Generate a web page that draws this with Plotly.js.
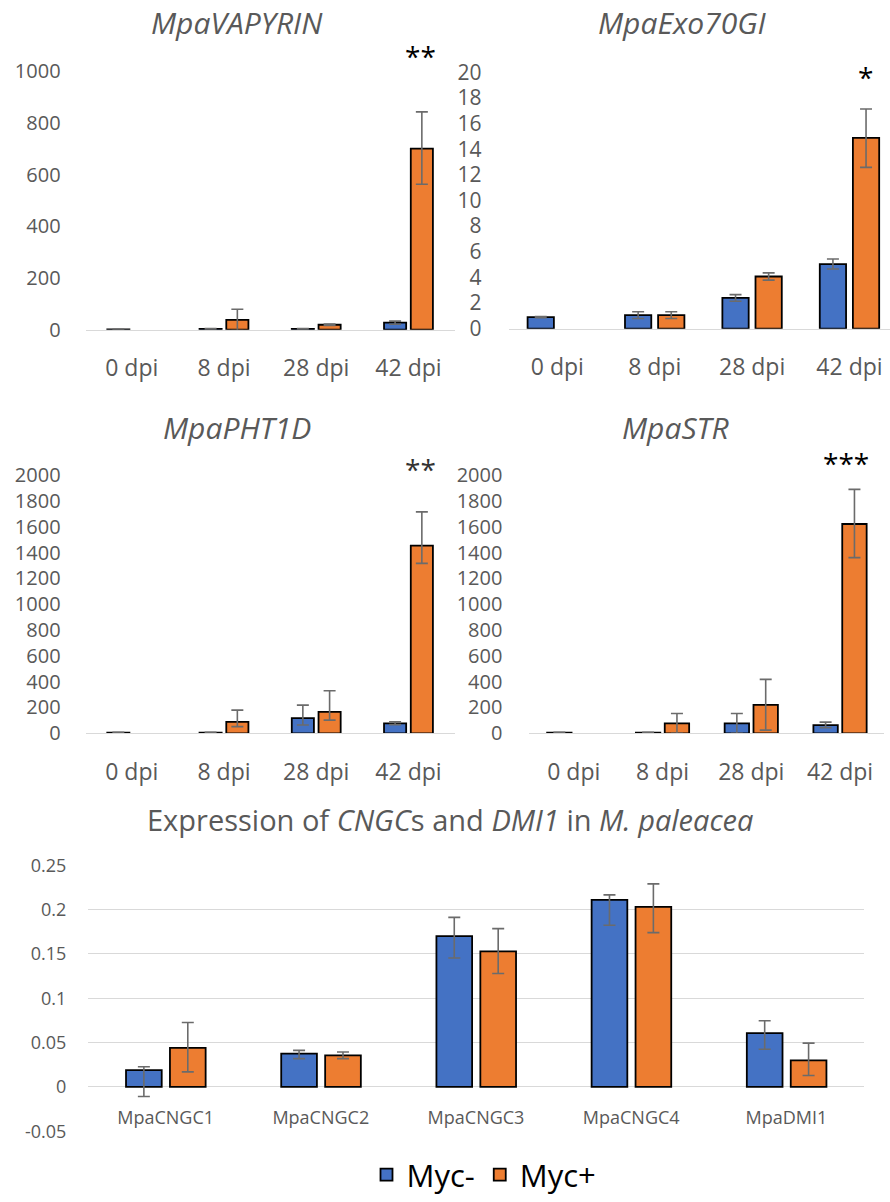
<!DOCTYPE html>
<html>
<head>
<meta charset="utf-8">
<script src="https://cdn.plot.ly/plotly-3.0.1.min.js"></script>
<style>html,body{margin:0;padding:0;background:#fff;}#chart{width:890px;height:1202px;}</style>
</head>
<body>
<div id="chart"></div>
<script>
// ---------- DATA ----------
const dpiCategories = ['0 dpi', '8 dpi', '28 dpi', '42 dpi'];
const seriesNames = ['Myc-', 'Myc+'];

const vapyrinMycMinus = [1, 3, 3, 27];
const vapyrinMycMinusErrUp = [0.5, 1, 1, 6];
const vapyrinMycMinusErrDown = [0.5, 1, 1, 6];
const vapyrinMycPlus = [null, 38, 19, 701];
const vapyrinMycPlusErrUp = [null, 41, 3, 142];
const vapyrinMycPlusErrDown = [null, 41, 3, 138];

const exo70MycMinus = [0.9, 1.06, 2.4, 5.04];
const exo70MycMinusErrUp = [0.05, 0.26, 0.26, 0.39];
const exo70MycMinusErrDown = [0.05, 0.26, 0.26, 0.39];
const exo70MycPlus = [null, 1.06, 4.07, 14.88];
const exo70MycPlusErrUp = [null, 0.26, 0.28, 2.26];
const exo70MycPlusErrDown = [null, 0.26, 0.28, 2.3];

const pht1dMycMinus = [5, 5, 118, 77];
const pht1dMycMinusErrUp = [2, 2, 100, 13];
const pht1dMycMinusErrDown = [2, 2, 54, 10];
const pht1dMycPlus = [null, 88, 166, 1455];
const pht1dMycPlusErrUp = [null, 92, 164, 261];
const pht1dMycPlusErrDown = [null, 36, 64, 138];

const strMycMinus = [5, 5, 77, 64];
const strMycMinusErrUp = [2, 2, 77, 23];
const strMycMinusErrDown = [2, 2, 77, 20];
const strMycPlus = [null, 77, 220, 1622];
const strMycPlusErrUp = [null, 77, 198, 268];
const strMycPlusErrDown = [null, 77, 195, 261];

const cngcGenes = ['MpaCNGC1', 'MpaCNGC2', 'MpaCNGC3', 'MpaCNGC4', 'MpaDMI1'];
const cngcMycMinus = [0.019, 0.0376, 0.170, 0.211, 0.0606];
const cngcMycMinusErrUp = [0.0038, 0.0037, 0.0212, 0.0056, 0.014];
const cngcMycMinusErrDown = [0.0298, 0.0056, 0.0246, 0.0287, 0.018];
const cngcMycPlus = [0.044, 0.0357, 0.153, 0.203, 0.030];
const cngcMycPlusErrUp = [0.0286, 0.0038, 0.0256, 0.026, 0.0194];
const cngcMycPlusErrDown = [0.027, 0.0038, 0.025, 0.029, 0.0171];

const cngcTickVals = [-0.05, 0, 0.05, 0.1, 0.15, 0.2, 0.25];
const cngcTickText = ['-0.05', '0', '0.05', '0.1', '0.15', '0.2', '0.25'];

const panelTitles = ['MpaVAPYRIN', 'MpaExo70GI', 'MpaPHT1D', 'MpaSTR'];
const significance = ['**', '*', '**', '***'];
const bottomTitle = 'Expression of <i>CNGC</i>s and <i>DMI1</i> in <i>M. paleacea</i>';

// ---------- STYLE ----------
const BLUE = '#4472C4', ORANGE = '#ED7D31', GRAY = '#595959';
const FONT = 'Open Sans, Liberation Sans, sans-serif';
const W = 890, H = 1202;
const px = v => v / W;
const py = v => 1 - v / H;

function barTrace(name, x, y, up, down, color, xa, ya, width, offset, showlegend, capw) {
  return {
    type: 'bar', name: name, x: x, y: y, xaxis: xa, yaxis: ya,
    width: width, offset: offset, showlegend: showlegend, legendgroup: name,
    marker: {color: color, line: {color: '#000000', width: 1.8}},
    error_y: {type: 'data', symmetric: false, array: up, arrayminus: down,
              color: '#6b6b6b', thickness: 1.6, width: capw},
    hoverinfo: 'x+y'
  };
}

const traces = [
  barTrace(seriesNames[0], dpiCategories, vapyrinMycMinus, vapyrinMycMinusErrUp, vapyrinMycMinusErrDown, BLUE, 'x', 'y', 0.24, -0.265, false, 6),
  barTrace(seriesNames[1], dpiCategories, vapyrinMycPlus, vapyrinMycPlusErrUp, vapyrinMycPlusErrDown, ORANGE, 'x', 'y', 0.24, 0.025, false, 6),
  barTrace(seriesNames[0], dpiCategories, exo70MycMinus, exo70MycMinusErrUp, exo70MycMinusErrDown, BLUE, 'x2', 'y2', 0.27, -0.305, false, 6),
  barTrace(seriesNames[1], dpiCategories, exo70MycPlus, exo70MycPlusErrUp, exo70MycPlusErrDown, ORANGE, 'x2', 'y2', 0.27, 0.035, false, 6),
  barTrace(seriesNames[0], dpiCategories, pht1dMycMinus, pht1dMycMinusErrUp, pht1dMycMinusErrDown, BLUE, 'x3', 'y3', 0.24, -0.265, false, 6),
  barTrace(seriesNames[1], dpiCategories, pht1dMycPlus, pht1dMycPlusErrUp, pht1dMycPlusErrDown, ORANGE, 'x3', 'y3', 0.24, 0.025, false, 6),
  barTrace(seriesNames[0], dpiCategories, strMycMinus, strMycMinusErrUp, strMycMinusErrDown, BLUE, 'x4', 'y4', 0.275, -0.30, false, 6),
  barTrace(seriesNames[1], dpiCategories, strMycPlus, strMycPlusErrUp, strMycPlusErrDown, ORANGE, 'x4', 'y4', 0.275, 0.025, false, 6),
  barTrace(seriesNames[0], cngcGenes, cngcMycMinus, cngcMycMinusErrUp, cngcMycMinusErrDown, BLUE, 'x5', 'y5', 0.23, -0.255, true, 6),
  barTrace(seriesNames[1], cngcGenes, cngcMycPlus, cngcMycPlusErrUp, cngcMycPlusErrDown, ORANGE, 'x5', 'y5', 0.23, 0.028, true, 6)
];

function topX(domain, anchor, range) {
  return {domain: domain, anchor: anchor, type: 'category', range: range, showline: true, linecolor: '#d9d9d9', linewidth: 1,
    showgrid: false, zeroline: false, ticks: 'outside', ticklen: 18, tickcolor: 'rgba(0,0,0,0)',
    tickfont: {family: FONT, size: 23, color: GRAY}, fixedrange: true};
}
function topY(domain, anchor, range, dtick, size, tlen) {
  return {domain: domain, anchor: anchor, range: range, dtick: dtick, tick0: 0, showline: false, showgrid: false,
    zeroline: false, ticks: 'outside', ticklen: tlen, tickcolor: 'rgba(0,0,0,0)',
    tickfont: {family: FONT, size: size, color: GRAY}, fixedrange: true};
}
function note(text, x, y, size, color) {
  return {text: text, x: px(x), y: py(y), xref: 'paper', yref: 'paper', xanchor: 'center', yanchor: 'middle',
    showarrow: false, font: {family: FONT, size: size, color: color}};
}

const layout = {
  width: W, height: H, margin: {l: 0, r: 0, t: 0, b: 0},
  paper_bgcolor: '#ffffff', plot_bgcolor: 'rgba(0,0,0,0)',
  barmode: 'overlay', font: {family: FONT, color: GRAY},
  xaxis: topX([px(85.6), px(454.6)], 'y', [-0.5, 3.5]),
  yaxis: topY([py(333), py(72)], 'x', [0, 1000], 200, 20, 20),
  xaxis2: topX([px(508.6), 1], 'y2', [-0.5, 3.416]),
  yaxis2: topY([py(332), py(73)], 'x2', [0, 20], 2, 21, 22),
  xaxis3: topX([px(85.6), px(454.6)], 'y3', [-0.5, 3.5]),
  yaxis3: topY([py(740.7), py(480)], 'x3', [0, 2000], 200, 20, 20),
  xaxis4: topX([px(529.4), px(884.4)], 'y4', [-0.5, 3.5]),
  yaxis4: topY([py(740.7), py(480)], 'x4', [0, 2000], 200, 20, 22),
  xaxis5: {domain: [px(88), px(864)], anchor: 'free', position: py(1097.7), type: 'category', range: [-0.5, 4.5],
    showline: false, showgrid: false, zeroline: false, ticks: 'outside', ticklen: 15, tickcolor: 'rgba(0,0,0,0)',
    tickfont: {family: FONT, size: 18, color: GRAY}, fixedrange: true},
  yaxis5: {domain: [py(1142.7), py(874)], anchor: 'x5', range: [-0.05, 0.25], tickvals: cngcTickVals, ticktext: cngcTickText,
    showline: false, showgrid: true, gridcolor: '#d9d9d9', gridwidth: 1, zeroline: true, zerolinecolor: '#d9d9d9', zerolinewidth: 1,
    ticks: 'outside', ticklen: 17, tickcolor: 'rgba(0,0,0,0)',
    tickfont: {family: FONT, size: 18, color: GRAY}, fixedrange: true},
  showlegend: true,
  legend: {orientation: 'h', x: px(484), xanchor: 'center', y: py(1187), yanchor: 'middle',
    font: {family: FONT, size: 31, color: '#000000'}, itemclick: false, itemdoubleclick: false, bgcolor: 'rgba(0,0,0,0)'},
  annotations: [
    note('<i>' + panelTitles[0] + '</i>', 237, 23, 30, GRAY),
    note('<i>' + panelTitles[1] + '</i>', 682, 23, 30, GRAY),
    note('<i>' + panelTitles[2] + '</i>', 237, 432, 30, GRAY),
    note('<i>' + panelTitles[3] + '</i>', 675, 432, 30, GRAY),
    note(significance[0], 420, 57, 28, '#000000'),
    note(significance[1], 865, 78, 28, '#000000'),
    note(significance[2], 420, 474, 28, '#333333'),
    note(significance[3], 846, 468, 28, '#000000'),
    note(bottomTitle, 450, 828, 29, GRAY)
  ]
};

Plotly.newPlot('chart', traces, layout, {staticPlot: true, displayModeBar: false});
</script>
</body>
</html>
